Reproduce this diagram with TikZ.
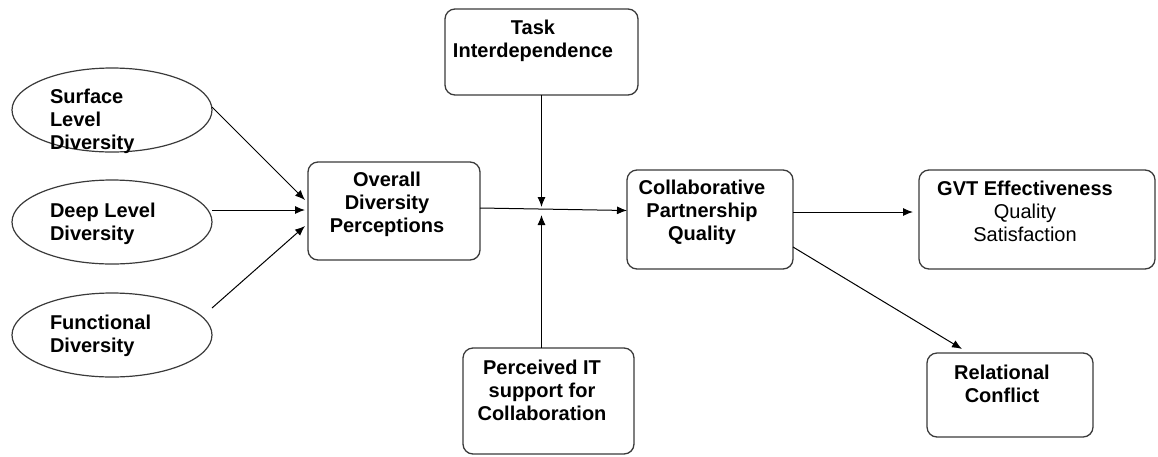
\documentclass[tikz,border=0pt]{standalone}
\usepackage{fontspec}
\setmainfont{Liberation Sans}
\usetikzlibrary{arrows.meta,shapes.geometric}
\definecolor{boxgray}{HTML}{3A3A3A}
\begin{document}
\begin{tikzpicture}[x=1pt,y=-1pt,
  every node/.style={inner sep=0pt, outer sep=0pt},
  box/.style={draw=boxgray, line width=1.3pt, rounded corners=10pt, rectangle},
  oval/.style={draw=boxgray, line width=1.2pt, ellipse, minimum width=200pt, minimum height=84pt},
  lbl/.style={font=\fontsize{20}{23}\selectfont\bfseries, align=center, anchor=north},
  lbll/.style={font=\fontsize{20}{23}\selectfont\bfseries, align=left, anchor=north west},
  link/.style={draw=black, line width=1pt, -{Latex[length=10pt,width=8pt]}},
]
\useasboundingbox (0,0) rectangle (1158,456);

% antecedents
\node[oval] (surf) at (112,110) {};
\node[oval] (deep) at (112,222) {};
\node[oval] (func) at (112,335) {};
\node[lbll] (surf-t) at (50,89) {Surface\\Level\\Diversity};
\node[lbll] (deep-t) at (50,203) {Deep Level\\Diversity};
\node[lbll] (func-t) at (50,315) {Functional\\Diversity};

% boxes
\node[box, minimum width=172pt, minimum height=98pt] (over) at (394,211) {};
\node[box, minimum width=193pt, minimum height=86pt] (task) at (541.5,52) {};
\node[box, minimum width=171pt, minimum height=106pt] (perc) at (548.5,401) {};
\node[box, minimum width=166pt, minimum height=99pt] (coll) at (710,219.5) {};
\node[box, minimum width=236pt, minimum height=99pt] (gvt) at (1037,219.5) {};
\node[box, minimum width=166pt, minimum height=84pt] (rel) at (1010,395) {};

\node[lbl] (over-t) at (387,172) {Overall\\Diversity\\Perceptions};
\node[lbl] (task-t) at (533,20) {Task\\Interdependence};
\node[lbl] (perc-t) at (542,360) {Perceived IT\\support for\\Collaboration};
\node[lbl] (coll-t) at (702,180) {Collaborative\\Partnership\\Quality};
\node[lbl] (gvt-t) at (1025,181) {GVT Effectiveness\\\textmd{Quality}\\\textmd{Satisfaction}};
\node[lbl] (rel-t) at (1002,365) {Relational\\Conflict};

% moderation points on the main path
\coordinate (mtop) at (541.5,207);
\coordinate (mbot) at (541.5,215);

% connectors
\draw[link] ([shift={(0,-3)}]surf.east) -- ([shift={(-3,-11)}]over.west);
\draw[link] ([shift={(0,-12)}]deep.east) -- ([shift={(-3,-1)}]over.west);
\draw[link] ([shift={(0,-27)}]func.east) -- ([shift={(-3,15)}]over.west);
\draw[link] ([shift={(0,-3)}]over.east) -- ([shift={(0,-9)}]coll.west);
\draw[link] (task.south) -- (mtop);
\draw[link] (mbot |- perc.north) -- (mbot);
\draw[link] ([shift={(0,-7.5)}]coll.east) -- ([shift={(-6,-7.5)}]gvt.west);
\draw[link] ([shift={(0,27.5)}]coll.east) -- ([shift={(-48,-4)}]rel.north);
\end{tikzpicture}
\end{document}
